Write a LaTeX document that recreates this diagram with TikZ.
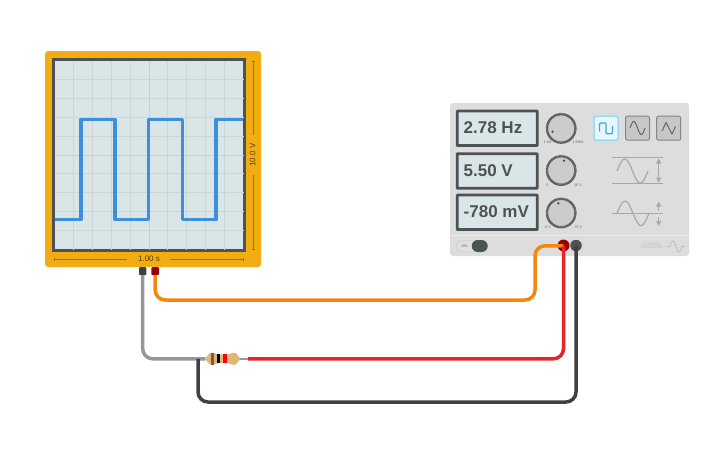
\documentclass[tikz,border=0pt]{standalone}
\usepackage{fontspec}
\setmainfont{Liberation Sans}
\definecolor{bezel}{HTML}{F2AD14}
\definecolor{screen}{HTML}{DAE5E8}
\definecolor{frame}{HTML}{4D5254}
\definecolor{trace}{HTML}{3C8FDB}
\definecolor{gridc}{HTML}{CBD6D8}
\definecolor{panel}{HTML}{DDDDDD}
\definecolor{wireO}{HTML}{F5860F}
\definecolor{wireR}{HTML}{E3262A}
\definecolor{wireK}{HTML}{3E4144}
\definecolor{wireG}{HTML}{94989A}
\definecolor{iconc}{HTML}{A8A8A8}
\definecolor{tan}{HTML}{DDB77F}
\tikzset{
  wire/.style={line width=3.5pt,rounded corners=10pt,line cap=round},
  display/.style={draw=frame,line width=2.8pt,fill=screen,rounded corners=0.5pt,minimum width=80pt,minimum height=34.5pt,inner sep=0pt},
  readout/.style={font=\bfseries\fontsize{17}{19}\selectfont,text=frame,anchor=west,inner sep=0pt},
  knobc/.style={circle,fill=black!20,minimum size=28.5pt,inner sep=0pt,draw=black!62,line width=2.4pt,dash pattern=on 1.2pt off 0.35pt},
  tiny/.style={font=\fontsize{3.8}{4}\selectfont,text=black!60,inner sep=0pt},
  wavebtn/.style={draw=black!48,line width=1pt,fill=black!22,rounded corners=2pt,minimum size=24pt,inner sep=0pt},
  dim/.style={draw=black!35!bezel,line width=0.5pt},
  icon/.style={draw=iconc,line width=1.2pt},
  gridl/.style={draw=gridc,line width=0.6pt},
}
\begin{document}
\begin{tikzpicture}[x=1pt,y=-1pt]
\useasboundingbox[fill=white] (0,0) rectangle (725,453);
% oscilloscope
\node[fill=bezel,rounded corners=3pt,minimum width=216pt,minimum height=216pt,inner sep=0pt] (scope) at (153,159) {};
\node[draw=frame,line width=2.8pt,fill=screen,minimum width=191pt,minimum height=191pt,inner sep=0pt] (scr) at (149,155) {};
\foreach \x in {73.3,92.3,111.7,130.7,167.7,186.7,205.7,224.3} \draw[gridl] (\x,60.5) -- (\x,249.5);
\foreach \y in {79.3,98.3,117.3,136.7,173.3,192.7,211.7,230.7} \draw[gridl] (54.5,\y) -- (243.5,\y);
\draw[gridl,draw=black!20,line width=0.8pt] (149,60.5) -- (149,249.5) (54.5,155.3) -- (243.5,155.3);
\draw[trace,line width=3.2pt,line join=round] (55,219.7) -- (81,219.7) -- (81,119.3) -- (115,119.3) -- (115,219.7) -- (148.3,219.7) -- (148.3,119.3) -- (182.7,119.3) -- (182.7,219.7) -- (216,219.7) -- (216,119.3) -- (242.8,119.3);
\node[font=\fontsize{8}{9}\selectfont,text=black!65!bezel,inner sep=0pt] (tlabel) at (149,258.5) {1.00 s};
\node[font=\fontsize{8}{9}\selectfont,text=black!65!bezel,inner sep=0pt,rotate=90] (vlabel) at (252.5,155) {10.0 V};
\draw[dim] (54,259) -- (127,259) (170,259) -- (243,259);
\draw[dim] (54,257.5) -- (54,260.5) (243,257.5) -- (243,260.5);
\draw[dim] (253.3,61) -- (253.3,135) (253.3,175) -- (253.3,249);
\draw[dim] (251.8,61) -- (254.8,61) (251.8,249) -- (254.8,249);
% function generator
\node[fill=panel,rounded corners=3pt,minimum width=239pt,minimum height=153pt,inner sep=0pt] (gen) at (569.5,179.5) {};
\draw[black!8,line width=1pt] (450.5,235) -- (688.5,235);
\node[display] (d1) at (497.2,128.3) {};
\node[display] (d2) at (497.2,171) {};
\node[display] (d3) at (497.2,212.3) {};
\node[readout] (t1) at (463.5,128) {2.78 Hz};
\node[readout] (t2) at (463.5,170.5) {5.50 V};
\node[readout] (t3) at (463.5,212) {-780 mV};
\node[knobc] (k1) at (561.2,128.4) {};
\node[knobc] (k2) at (561.2,170.5) {};
\node[knobc] (k3) at (561.2,213) {};
\fill[black!70] (552.6,131.7) circle (1.3pt) (564,160.7) circle (1.3pt) (558.3,203.3) circle (1.3pt);
\node[tiny] (l1a) at (547.5,142.5) {1 Hz};
\node[tiny] (l1b) at (578,142.5) {1 MHz};
\node[tiny] (l2a) at (547.5,185) {0};
\node[tiny] (l2b) at (578,185) {10 V};
\node[tiny] (l3a) at (547.5,227.5) {-5 V};
\node[tiny] (l3b) at (578,227.5) {+5 V};
\node[wavebtn,draw=cyan!55,fill=white!90!cyan] (b1) at (606,128.2) {};
\node[wavebtn] (b2) at (637.5,128.2) {};
\node[wavebtn] (b3) at (668.7,128.2) {};
\draw[draw=cyan!75!blue!75,line width=1.4pt,rounded corners=1pt] (599.5,131.5) -- (599.5,123) -- (606,123) -- (606,133.7) -- (612.5,133.7) -- (612.5,126);
\draw[draw=black!60,line width=1pt] plot[smooth,domain=0:1,samples=25] ({630+15*\x},{128-6.5*sin(360*\x)});
\draw[draw=black!60,line width=1pt,line join=round] (662,131) -- (666,122.5) -- (672,134) -- (675.5,126.5);
% amplitude icon
\draw[icon,line width=0.7pt] (612,157.7) -- (662.7,157.7) (612,183.3) -- (662.7,183.3);
\draw[icon] plot[smooth,domain=0:1,samples=30] ({617+31*\x},{171-12*sin(360*\x)});
\draw[icon,line width=0.8pt] (658.7,160) -- (658.7,181);
\fill[iconc] (658.7,158.5) -- (656,163.5) -- (661.4,163.5) -- cycle (658.7,182.5) -- (656,177.5) -- (661.4,177.5) -- cycle;
% offset icon
\draw[icon,line width=0.7pt] (612,213.3) -- (662.7,213.3);
\draw[icon] plot[smooth,domain=0:1,samples=30] ({617+32*\x},{213.3-12.2*sin(360*\x)});
\draw[icon,line width=0.8pt] (658.7,203) -- (658.7,210.5) (658.7,216.5) -- (658.7,225);
\fill[iconc] (658.7,201.5) -- (656,206.5) -- (661.4,206.5) -- cycle (658.7,226) -- (656,221) -- (661.4,221) -- cycle;
% switch
\node[fill=black!12,draw=black!22,line width=0.4pt,rounded corners=5pt,minimum width=31pt,minimum height=10.5pt,inner sep=0pt] (track) at (471.7,246) {};
\node[fill=frame,rounded corners=6pt,minimum width=16pt,minimum height=12pt,inner sep=0pt] (thumb) at (479.7,246) {};
\node[font=\fontsize{3.8}{4}\selectfont,text=black!60,inner sep=0pt] (onlab) at (464.3,246) {ON};
% maker mark
\node[font=\fontsize{3.4}{4}\selectfont,text=black!25,align=center,inner sep=0pt] (mark) at (652,246) {FUNCTION\\[-0.5pt]GENERATOR};
\draw[black!28,line width=0.6pt] (667,246.5) -- (670,246.5) .. controls (672,239) and (674,239) .. (676,246.5) .. controls (678,254) and (680,254) .. (682,246.5) -- (685,246.5);
% terminals and probes
\node[circle,fill=red!60!black,minimum size=12pt,inner sep=0pt] (tr) at (563.5,245.5) {};
\node[circle,fill=frame,minimum size=11.5pt,inner sep=0pt] (tk) at (576,245.5) {};
\node[fill=wireK,minimum width=7.4pt,minimum height=8pt,inner sep=0pt,rounded corners=1pt] (pk) at (142.7,271.2) {};
\node[fill=red!60!black,minimum width=7.6pt,minimum height=8pt,inner sep=0pt,rounded corners=1pt] (pr) at (155.2,271.2) {};
\coordinate (tra) at (563.5,246);
\coordinate (tka) at (576,246);
\coordinate (pka) at (142.7,275);
\coordinate (pra) at (155.2,275);
\coordinate (rl) at (205,358.8);
\coordinate (rr) at (248,358.8);
\coordinate (jn) at (198,358.8);
\coordinate (cO1) at (155.2,300);
\coordinate (cO2) at (535,300);
\coordinate (cO3) at (535,245.7);
\coordinate (cR) at (563.5,358.8);
\coordinate (cK1) at (576,402);
\coordinate (cK2) at (198,402);
\coordinate (cG) at (142.7,358.8);
% wires
\draw[wire,wireG,line cap=butt] (pka) -- (cG) -- (rl);
\draw[wire,wireK,line cap=butt] (tka) -- (cK1) -- (cK2) -- (jn);
\draw[wire,wireO,line cap=butt] (pra) -- (cO1) -- (cO2) -- (cO3) -- (tra);
\draw[wire,wireR,line cap=butt] (tra) -- (cR) -- (rr);
% resistor
\draw[wireG,line width=2.6pt] (rl) -- (rr);
\path[fill=tan] (204.5,358.8) -- (210,353.2) .. controls (212.5,352.2) and (215,353) .. (217.5,354.4) -- (228.5,354.4) .. controls (231,353) and (234,352.2) .. (236,353.2) -- (240.5,358.8) -- (236,364.4) .. controls (234,365.4) and (231,364.6) .. (228.5,363.2) -- (217.5,363.2) .. controls (215,364.6) and (212.5,365.4) .. (210,364.4) -- cycle;
\fill[brown!70!black] (210.6,353) rectangle (213.8,364.6);
\fill[black] (217.2,354.4) rectangle (220.4,363.2);
\fill[red] (223.2,354.4) rectangle (226.8,363.2);
\fill[yellow!60!tan!85!black] (233.6,352.8) rectangle (235,364.8);
\end{tikzpicture}
\end{document}
